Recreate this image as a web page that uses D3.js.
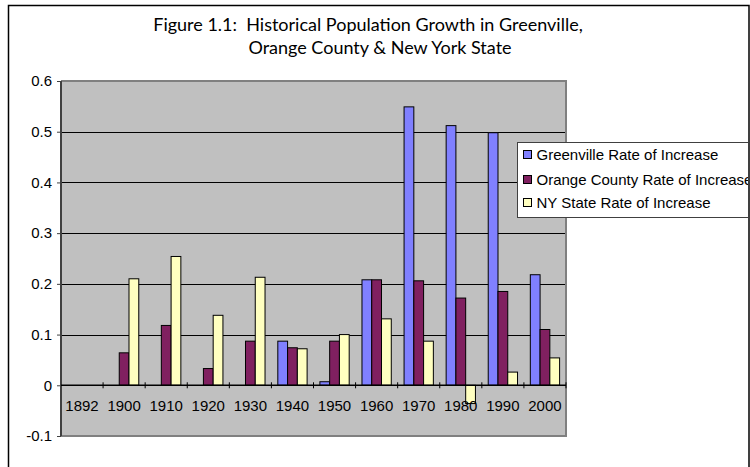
<!DOCTYPE html>
<html>
<head>
<meta charset="utf-8">
<script src="https://cdn.jsdelivr.net/npm/d3@7"></script>
<style>
  body { margin: 0; background: #fff; }
  text { font-family: "Liberation Sans", Arial, sans-serif; }
  text.title { font-family: Lato, "Open Sans", sans-serif; white-space: pre; }
</style>
</head>
<body>
<svg id="chart" width="750" height="467"></svg>
<script>
// data
const years = ["1892", "1900", "1910", "1920", "1930", "1940", "1950", "1960", "1970", "1980", "1990", "2000"];
const seriesNames = ["Greenville Rate of Increase", "Orange County Rate of Increase", "NY State Rate of Increase"];
const greenville = [null, null, null, null, null, 0.087, 0.007, 0.208, 0.549, 0.512, 0.498, 0.218];
const orangeCounty = [null, 0.064, 0.118, 0.033, 0.087, 0.074, 0.087, 0.208, 0.206, 0.172, 0.185, 0.110];
const nyState = [null, 0.210, 0.254, 0.138, 0.213, 0.072, 0.100, 0.131, 0.087, -0.036, 0.026, 0.054];
const yTicks = [-0.1, 0, 0.1, 0.2, 0.3, 0.4, 0.5, 0.6];
const colors = ["#8080ff", "#802060", "#ffffc0"];

const svg = d3.select("#chart");

// outer chart frame
svg.append("rect")
  .attr("x", 8.5).attr("y", 5.5)
  .attr("width", 740.5).attr("height", 470)
  .attr("fill", "#fff").attr("stroke", "#000").attr("stroke-width", 1.5);

// title (keep the double space after "1.1:")
const title = svg.append("g");
title.append("text")
  .attr("class", "title")
  .attr("xml:space", "preserve")
  .attr("x", 368).attr("y", 31)
  .attr("text-anchor", "middle")
  .attr("font-size", 18)
  .text("Figure 1.1:  Historical Population Growth in Greenville,");
title.append("text")
  .attr("class", "title")
  .attr("x", 380).attr("y", 54)
  .attr("text-anchor", "middle")
  .attr("font-size", 18)
  .text("Orange County & New York State");

// plot area
const pLeft = 61, pRight = 566, pTop = 81, pBottom = 436;

const x0 = d3.scaleBand().domain(years).range([pLeft, pRight]);
const x1 = d3.scaleBand().domain(seriesNames)
  .range([x0.bandwidth() * 0.152, x0.bandwidth() * 0.848]);
const y = d3.scaleLinear().domain([-0.1, 0.6]).range([pBottom, pTop]);

svg.append("rect")
  .attr("x", pLeft).attr("y", pTop)
  .attr("width", pRight - pLeft).attr("height", pBottom - pTop)
  .attr("fill", "#c0c0c0");

// gridlines
svg.append("g")
  .selectAll("line")
  .data(yTicks.filter((d) => d > 0 && d < 0.6))
  .join("line")
  .attr("x1", pLeft).attr("x2", pRight)
  .attr("y1", (d) => Math.round(y(d)) + 0.5).attr("y2", (d) => Math.round(y(d)) + 0.5)
  .attr("stroke", "#000");

// plot border (top, right, bottom)
svg.append("path")
  .attr("d", `M${pLeft},${pTop} H${pRight} V${pBottom} H${pLeft}`)
  .attr("fill", "none").attr("stroke", "#808080").attr("stroke-width", 2);

// bars
const table = years.map((yr, i) => ({
  year: yr,
  values: [greenville[i], orangeCounty[i], nyState[i]]
}));

const groups = svg.append("g")
  .selectAll("g")
  .data(table)
  .join("g")
  .attr("transform", (d) => `translate(${x0(d.year)},0)`);

groups.selectAll("rect")
  .data((d) => d.values.map((v, j) => ({ key: seriesNames[j], value: v, j })).filter((d) => d.value !== null))
  .join("rect")
  .attr("x", (d) => x1(d.key))
  .attr("y", (d) => y(Math.max(0, d.value)))
  .attr("width", x1.bandwidth())
  .attr("height", (d) => Math.abs(y(d.value) - y(0)))
  .attr("fill", (d) => colors[d.j])
  .attr("stroke", "#000")
  .attr("stroke-width", 1);

// y axis
const yAxis = svg.append("g")
  .attr("transform", `translate(${pLeft},0)`)
  .call(d3.axisLeft(y).tickValues(yTicks).tickSize(4).tickPadding(5)
    .tickFormat((d) => String(+d.toFixed(1))));
yAxis.select(".domain").attr("stroke", "#404040").attr("stroke-width", 2).attr("d", `M0,${pTop}V${pBottom}`);
yAxis.selectAll(".tick line").attr("stroke", "#404040");
yAxis.selectAll("text").attr("font-size", 15).attr("fill", "#000").style("font-family", "'Liberation Sans', Arial");

// x axis at zero
const xAxis = svg.append("g").attr("transform", `translate(0,${y(0)})`);
xAxis.append("line")
  .attr("x1", pLeft).attr("x2", pRight)
  .attr("stroke", "#000").attr("stroke-width", 1.5);
xAxis.selectAll(".xtick")
  .data(years.slice(1).concat(["end"]))
  .join("line")
  .attr("class", "xtick")
  .attr("x1", (d) => (d === "end" ? pRight : x0(d)))
  .attr("x2", (d) => (d === "end" ? pRight : x0(d)))
  .attr("y1", -3).attr("y2", 3)
  .attr("stroke", "#000");
xAxis.selectAll(".xlabel")
  .data(years)
  .join("text")
  .attr("class", "xlabel")
  .attr("x", (d) => x0(d) + x0.bandwidth() / 2)
  .attr("y", 26)
  .attr("text-anchor", "middle")
  .attr("font-size", 15)
  .text((d) => d);

// legend
const legend = svg.append("g");
svg.append("clipPath").attr("id", "legclip")
  .append("rect").attr("x", 517).attr("y", 142).attr("width", 231).attr("height", 75);
legend.append("rect")
  .attr("x", 517.5).attr("y", 142.5).attr("width", 231).attr("height", 75)
  .attr("fill", "#fff").attr("stroke", "#404040");
const items = legend.append("g").attr("clip-path", "url(#legclip)")
  .selectAll("g")
  .data(seriesNames)
  .join("g")
  .attr("transform", (d, i) => `translate(523,${[155, 180, 203][i]})`);
items.append("rect")
  .attr("x", 0.5).attr("y", -4.5).attr("width", 8).attr("height", 8)
  .attr("fill", (d, i) => colors[i]).attr("stroke", "#000");
items.append("text")
  .attr("x", 13.5).attr("y", 5.2)
  .attr("font-size", 15)
  .text((d) => d);
</script>
</body>
</html>
